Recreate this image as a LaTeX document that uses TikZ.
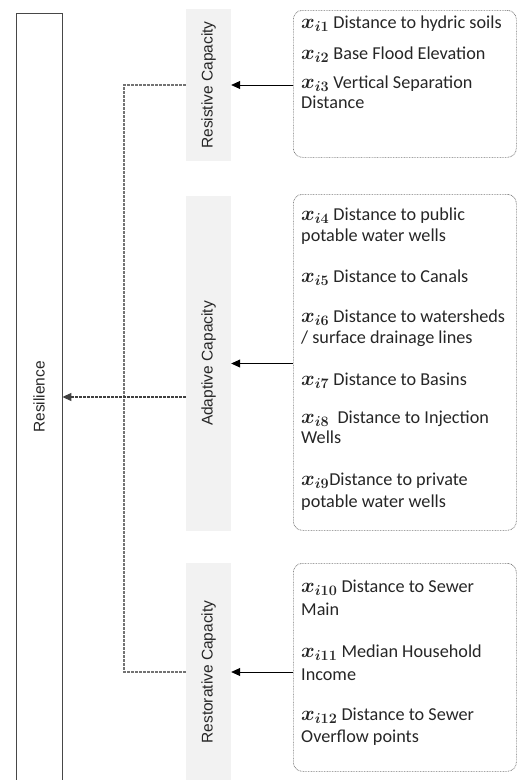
\documentclass[tikz,border=0pt]{standalone}
\usepackage{fontspec}
\usepackage{bm}
\setmainfont{Carlito}
\newfontfamily\labelfont{Liberation Sans}
\usetikzlibrary{arrows.meta}
\definecolor{panelgrey}{HTML}{F2F2F2}
\definecolor{ink}{HTML}{262626}
\newcommand{\xvar}[1]{{\fontsize{21}{21}\selectfont$\bm{x_{i#1}}$}}
\tikzset{
  panel/.style={fill=panelgrey, draw=none, minimum width=45pt, inner sep=0pt},
  itembox/.style={draw=gray!90!black, dash pattern=on 0.8pt off 0.8pt, line width=0.7pt,
    rounded corners=9pt, minimum width=223pt, inner sep=0pt, anchor=north west},
  item/.style={anchor=base west, inner sep=0pt, font=\fontsize{18.2}{21}\selectfont, text=ink},
  vlabel/.style={rotate=90, inner sep=0pt, font=\labelfont\fontsize{15.5}{18}\selectfont, text=ink},
  feed/.style={draw=black, line width=0.8pt, -{Triangle[length=9pt,width=8pt]}},
  link/.style={draw=black!55, line width=1.1pt, dash pattern=on 2.5pt off 1.5pt},
}
\begin{document}
\begin{tikzpicture}[x=1pt,y=-1pt]
\useasboundingbox (0,0) rectangle (517,780);
\clip (0,0) rectangle (517,780);

% overall resilience column
\node[draw=ink!85, line width=0.8pt, minimum width=46pt, minimum height=768pt, inner sep=0pt] (R) at (39,397) {};
\node[vlabel] (Rl) at (R.center) {Resilience};

% capacity panels
\node[panel, minimum height=152pt] (res) at (208.5,85) {};
\node[vlabel] (resl) at (res.center) {Resistive Capacity};
\node[panel, minimum height=335pt] (ada) at (208.5,363.5) {};
\node[vlabel] (adal) at (ada.center) {Adaptive Capacity};
\node[panel, minimum height=218pt] (rst) at (208.5,672) {};
\node[vlabel] (rstl) at (rst.center) {Restorative Capacity};

% indicator boxes
\node[itembox, minimum height=147pt] (b1) at (293,10) {};
\node[itembox, minimum height=336pt] (b2) at (293,194) {};
\node[itembox, minimum height=208pt] (b3) at (293,563) {};

% resistive indicators
\node[item] (l1) at (301,28) {\xvar{1} Distance to hydric soils};
\node[item] (l2) at (301,59) {\xvar{2} Base Flood Elevation};
\node[item] (l3) at (301,88) {\xvar{3} Vertical Separation};
\node[item] (l3b) at (301,108) {Distance};

% adaptive indicators
\node[item] (l4) at (301,220) {\xvar{4} Distance to public};
\node[item] (l4b) at (301,241) {potable water wells};
\node[item] (l5) at (301,282) {\xvar{5} Distance to Canals};
\node[item] (l6) at (301,322) {\xvar{6} Distance to watersheds};
\node[item] (l6b) at (301,343) {/ surface drainage lines};
\node[item] (l7) at (301,385) {\xvar{7} Distance to Basins};
\node[item] (l8) at (301,423) {\xvar{8}\ \ Distance to Injection};
\node[item] (l8b) at (301,443) {Wells};
\node[item] (l9) at (301,485) {\xvar{9}Distance to private};
\node[item] (l9b) at (301,507) {potable water wells};

% restorative indicators
\node[item] (l10) at (301,592) {\xvar{10} Distance to Sewer};
\node[item] (l10b) at (301,615) {Main};
\node[item] (l11) at (301,657) {\xvar{11} Median Household};
\node[item] (l11b) at (301,680) {Income};
\node[item] (l12) at (301,720) {\xvar{12} Distance to Sewer};
\node[item] (l12b) at (301,742) {Overflow points};

% indicators feed each capacity
\draw[feed] (b1.west |- res.east) -- (res.east);
\draw[feed] (b2.west |- ada.east) -- (ada.east);
\draw[feed] (b3.west |- rst.east) -- (rst.east);

% capacities combine into resilience
\coordinate (bus) at (124,0);
\draw[link] (res.west) -- (res.west -| bus) -- (rst.west -| bus) -- (rst.west);
\draw[link, draw=black!75, -{Triangle[length=9pt,width=8pt]}] (ada.west |- R.east) -- (R.east);
\end{tikzpicture}
\end{document}
